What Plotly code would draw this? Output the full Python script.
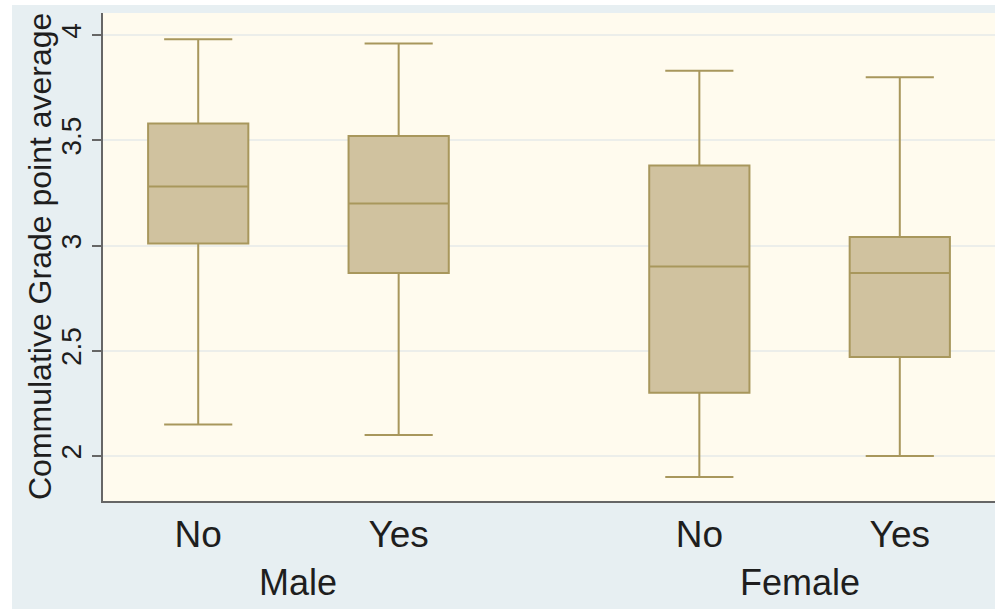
import plotly.graph_objects as go

# Data
groups = ["Male", "Male", "Female", "Female"]
categories = ["No", "Yes", "No", "Yes"]
positions = [1.0, 2.0, 3.5, 4.5]
upper_whisker = [3.98, 3.96, 3.83, 3.80]
q3_values = [3.58, 3.52, 3.38, 3.04]
median_values = [3.28, 3.20, 2.90, 2.87]
q1_values = [3.01, 2.87, 2.30, 2.47]
lower_whisker = [2.15, 2.10, 1.90, 2.00]
y_ticks = [2, 2.5, 3, 3.5, 4]
y_tick_labels = ["2", "2.5", "3", "3.5", "4"]
group_labels = ["Male", "Female"]
group_centers = [1.5, 4.0]
y_title = "Commulative Grade point average"

FONT = "Liberation Sans, Arial, sans-serif"

# page offset (white border as in the reference)
OFF_L, OFF_T = 12, 5
W, H = 995 - OFF_L, 609 - OFF_T
PLOT_L, PLOT_T, PLOT_B = 103, 13, 501
plot_w = 995 - PLOT_L
plot_h = PLOT_B - PLOT_T

fig = go.Figure()
fig.add_trace(go.Box(
    x=positions,
    q1=q1_values,
    median=median_values,
    q3=q3_values,
    lowerfence=lower_whisker,
    upperfence=upper_whisker,
    width=0.5,
    whiskerwidth=0.68,
    fillcolor="#d0c29f",
    line=dict(color="#a8975c", width=2),
    boxpoints=False,
    hoverinfo="skip",
    showlegend=False,
))

for label, cx in zip(group_labels, group_centers):
    fig.add_annotation(
        x=cx, xref="x", y=-(582 - PLOT_B) / plot_h, yref="paper",
        text=label, showarrow=False,
        font=dict(family=FONT, size=36, color="#1e1e1e"),
        xanchor="center", yanchor="middle",
    )

fig.add_annotation(
    x=-(PLOT_L - 40) / plot_w, xref="paper",
    y=(PLOT_B - 257) / plot_h, yref="paper",
    text=y_title, textangle=-90, showarrow=False,
    font=dict(family=FONT, size=32, color="#1e1e1e"),
    xanchor="center", yanchor="middle",
)

fig.update_layout(
    width=W, height=H,
    margin=dict(l=PLOT_L - OFF_L, r=0, t=PLOT_T - OFF_T, b=609 - PLOT_B,
                autoexpand=False),
    paper_bgcolor="#e7eff2",
    plot_bgcolor="#fffbee",
    font=dict(family=FONT, color="#1e1e1e"),
)

fig.update_xaxes(
    automargin=False,
    range=[0.525, 4.975],
    tickvals=positions,
    ticktext=categories,
    tickfont=dict(family=FONT, size=37, color="#1e1e1e"),
    showgrid=False, zeroline=False,
    showline=True, linecolor="#666666", linewidth=2,
    ticks="", ticklabelstandoff=0,
)

fig.update_yaxes(
    automargin=False,
    range=[1.786, 4.105],
    tickvals=y_ticks,
    ticktext=y_tick_labels,
    tickangle=-90,
    tickfont=dict(family=FONT, size=28, color="#1e1e1e"),
    ticks="outside", ticklen=9, tickwidth=1.5, tickcolor="#666666",
    showgrid=True, gridcolor="#eceeea", gridwidth=1.5,
    zeroline=False,
    showline=True, linecolor="#666666", linewidth=2,
)

fig.write_html(
    "out.html",
    post_script="document.body.style.margin='%dpx 0 0 %dpx';" % (OFF_T, OFF_L),
)
